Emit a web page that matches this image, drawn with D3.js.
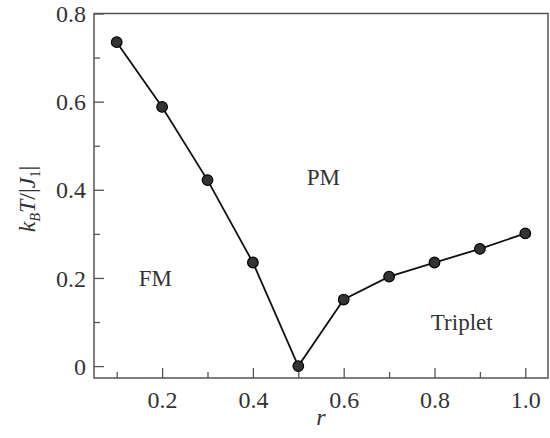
<!DOCTYPE html>
<html>
<head>
<meta charset="utf-8">
<script src="https://cdn.jsdelivr.net/npm/d3@7"></script>
<style>
  body { margin: 0; background: #fff; overflow: hidden; }
  svg { display: block; }
  svg text { font-family: 'Liberation Serif', 'Times New Roman', serif; fill: #333; }
</style>
</head>
<body>
<div id="chart"></div>
<script>
let rValues = [0.1, 0.2, 0.3, 0.4, 0.5, 0.6, 0.7, 0.8, 0.9, 1.0],
    tcValues = [0.735, 0.588, 0.422, 0.235, 0.0, 0.151, 0.203, 0.235, 0.266, 0.301];

let xTicks = [0.2, 0.4, 0.6, 0.8, 1.0],
    xMinorTicks = [0.1, 0.3, 0.5, 0.7, 0.9],
    yTicks = [0, 0.2, 0.4, 0.6, 0.8],
    yMinorTicks = [0.1, 0.3, 0.5, 0.7];

let phaseLabels = [
    {name: 'FM', r: 0.185, t: 0.2},
    {name: 'PM', r: 0.555, t: 0.43},
    {name: 'Triplet', r: 0.86, t: 0.1}
];

let width = 550,
    height = 438,
    margin = {left: 94, top: 13.5, right: 2, bottom: 60},
    innerWidth = width - margin.left - margin.right,
    innerHeight = height - margin.top - margin.bottom;

let svg = d3.select('#chart').append('svg')
    .attr('width', width)
    .attr('height', height)
    .append('g')
    .attr('transform', `translate(${margin.left}, ${margin.top})`);

let xScale = d3.scaleLinear()
    .domain([0.05, 1.05])
    .range([0, innerWidth]);

let yScale = d3.scaleLinear()
    .domain([-0.027, 0.8])
    .range([innerHeight, 0]);

// frame
svg.append('rect')
    .attr('width', innerWidth)
    .attr('height', innerHeight)
    .attr('fill', 'none')
    .attr('stroke', '#555')
    .attr('stroke-width', 1.5);

// ticks point inward
let xAxis = svg.append('g')
    .attr('transform', `translate(0, ${innerHeight})`)
    .call(d3.axisBottom(xScale).tickValues(xTicks).tickSize(-10)
        .tickFormat(d3.format('.1f')));
svg.append('g')
    .attr('class', 'minor')
    .attr('transform', `translate(0, ${innerHeight})`)
    .call(d3.axisBottom(xScale).tickValues(xMinorTicks).tickSize(-6));

let yAxis = svg.append('g')
    .call(d3.axisLeft(yScale).tickValues(yTicks).tickSize(-10).tickPadding(8)
        .tickFormat(d => d === 0 ? '0' : d3.format('.1f')(d)));
svg.append('g')
    .attr('class', 'minor')
    .call(d3.axisLeft(yScale).tickValues(yMinorTicks).tickSize(-6));

svg.selectAll('.minor text').remove();
svg.selectAll('.domain').remove();
svg.selectAll('.tick line').attr('stroke', '#555').attr('stroke-width', 1.3);
svg.selectAll('.tick text')
    .attr('font-size', '24px')
    .attr('fill', '#333');
xAxis.selectAll('.tick text').attr('y', 30).attr('dy', 0);
yAxis.selectAll('.tick text').attr('dy', '0.34em');

// curve
let points = rValues.map((r, i) => ({r: r, t: tcValues[i]}));

svg.append('path')
    .datum(points)
    .attr('fill', 'none')
    .attr('stroke', '#111')
    .attr('stroke-width', 1.8)
    .attr('d', d3.line().x(d => xScale(d.r)).y(d => yScale(d.t)));

svg.selectAll('.pt')
    .data(points)
    .join('circle')
    .attr('class', 'pt')
    .attr('cx', d => xScale(d.r))
    .attr('cy', d => yScale(d.t))
    .attr('r', 5.3)
    .attr('fill', '#333')
    .attr('stroke', '#000')
    .attr('stroke-width', 1.2);

svg.selectAll('.phase')
    .data(phaseLabels)
    .join('text')
    .attr('class', 'phase')
    .attr('x', d => xScale(d.r))
    .attr('y', d => yScale(d.t))
    .attr('text-anchor', 'middle')
    .attr('dy', '0.35em')
    .attr('font-size', '23px')
    .text(d => d.name);

// axis titles
svg.append('text')
    .attr('x', xScale(0.55))
    .attr('y', innerHeight + 47)
    .attr('text-anchor', 'middle')
    .attr('font-size', '24px')
    .attr('font-style', 'italic')
    .text('r');

let yTitle = svg.append('text')
    .attr('transform', `translate(${27 - margin.left + 8}, ${199 - margin.top}) rotate(-90)`)
    .attr('text-anchor', 'middle')
    .attr('font-size', '24px');
yTitle.append('tspan').attr('font-style', 'italic').text('k');
yTitle.append('tspan').attr('font-style', 'italic').attr('font-size', '14px').attr('dy', 5).text('B');
yTitle.append('tspan').attr('font-style', 'italic').attr('dy', -5).text('T');
yTitle.append('tspan').text('/|');
yTitle.append('tspan').attr('font-style', 'italic').text('J');
yTitle.append('tspan').attr('font-size', '14px').attr('dy', 5).text('1');
yTitle.append('tspan').attr('dy', -5).text('|');
</script>
</body>
</html>
